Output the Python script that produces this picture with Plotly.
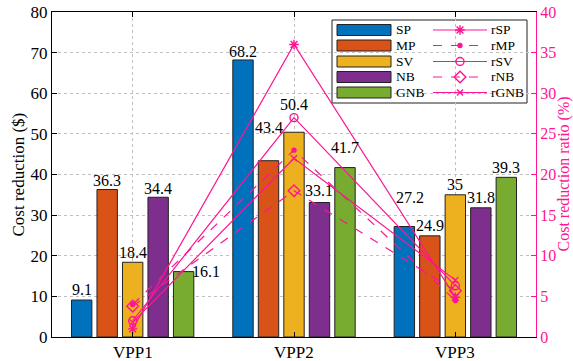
import plotly.graph_objects as go

categories = ["VPP1", "VPP2", "VPP3"]
series_names = ["SP", "MP", "SV", "NB", "GNB"]
cost_SP = [9.1, 68.2, 27.2]
cost_MP = [36.3, 43.4, 24.9]
cost_SV = [18.4, 50.4, 35.0]
cost_NB = [34.4, 33.1, 31.8]
cost_GNB = [16.1, 41.7, 39.3]
ratio_SP = [1.0, 36.0, 4.9]
ratio_MP = [4.0, 23.0, 4.5]
ratio_SV = [2.0, 27.0, 6.3]
ratio_NB = [3.8, 18.0, 5.7]
ratio_GNB = [1.8, 22.0, 7.0]
left_ticks = [0, 10, 20, 30, 40, 50, 60, 70, 80]
right_ticks = [0, 5, 10, 15, 20, 25, 30, 35, 40]

costs = [cost_SP, cost_MP, cost_SV, cost_NB, cost_GNB]
ratios = [ratio_SP, ratio_MP, ratio_SV, ratio_NB, ratio_GNB]

bar_colors = ["#0072BD", "#D95319", "#EDB120", "#7E2F8E", "#77AC30"]
pink = "#FF1493"
FONT = "Liberation Serif, Times New Roman, serif"

W, H = 573, 361
ML, MR, MT, MB = 52, 37, 12, 24
BARGAP, BARGROUPGAP = 0.21, 0.2
plot_w = W - ML - MR
slot = plot_w / 3 * (1 - BARGAP) / 5

# label placement tweaks (px): horizontal shift and height of text centre above bar top
label_dx = [[0, 0, 6], [0, 0, 0], [0, 0, 0], [0, 0, 0], [22, 0, 0]]
label_dy = [[11, 8, 29], [9, 33, 10], [10, 28, 10], [9, 12, 10], [0, 20, 10]]

line_styles = [
    dict(dash="solid", symbol="asterisk-open", size=8),
    dict(dash="dash", symbol="circle", size=4),
    dict(dash="solid", symbol="circle-open", size=8),
    dict(dash="dash", symbol="diamond-open", size=9),
    dict(dash="solid", symbol="x-thin-open", size=6),
]

fig = go.Figure()
for i, name in enumerate(series_names):
    fig.add_trace(go.Bar(
        x=categories, y=costs[i], name=name, showlegend=False,
        marker=dict(color=bar_colors[i], line=dict(color="#222222", width=1)),
    ))

for i, name in enumerate(series_names):
    st = line_styles[i]
    fig.add_trace(go.Scatter(
        x=categories, y=ratios[i], name="r" + name, yaxis="y2",
        mode="lines+markers", showlegend=False,
        line=dict(color=pink, width=1.2, dash=st["dash"]),
        marker=dict(symbol=st["symbol"], size=st["size"], color=pink,
                    line=dict(color=pink, width=1.4)),
    ))

annotations = []
for i in range(5):
    for j, cat in enumerate(categories):
        v = costs[i][j]
        annotations.append(dict(
            x=cat, y=v, xref="x", yref="y", text=f"{v:g}", showarrow=False,
            xshift=(i - 2) * slot + label_dx[i][j], yshift=label_dy[i][j],
            xanchor="center", yanchor="middle",
            font=dict(family=FONT, size=16, color="black"),
        ))

# category labels under the axis
for cat in categories:
    annotations.append(dict(
        x=cat, y=0, xref="x", yref="paper", text=cat, showarrow=False,
        yshift=-15, xanchor="center", yanchor="middle",
        font=dict(family=FONT, size=17, color="black"),
    ))

# axis titles
annotations.append(dict(
    x=0, y=0.5, xref="paper", yref="paper", text="Cost reduction ($)",
    showarrow=False, textangle=-90, xshift=-34, xanchor="center", yanchor="middle",
    font=dict(family=FONT, size=17, color="black"),
))
annotations.append(dict(
    x=1, y=0.5, xref="paper", yref="paper", text="Cost reduction ratio (%)",
    showarrow=False, textangle=-90, xshift=27, xanchor="center", yanchor="middle",
    font=dict(family=FONT, size=16, color=pink),
))

# ---- hand-built legend (pixel coordinates on a hidden overlay axis) ----
def px_x(p):
    return (p - ML) / plot_w

def px_y(p):
    return 1 - (p - MT) / (H - MT - MB)

shapes = [dict(type="rect", xref="paper", yref="paper",
               x0=px_x(332), x1=px_x(527), y0=px_y(103), y1=px_y(20),
               line=dict(color="#222222", width=1), fillcolor="white", layer="between")]
row_y = [30, 45.5, 61.5, 77, 92.5]
for i, name in enumerate(series_names):
    ry = row_y[i]
    shapes.append(dict(type="rect", xref="paper", yref="paper",
                       x0=px_x(337), x1=px_x(391), y0=px_y(ry + 5.5), y1=px_y(ry - 5.5),
                       line=dict(color="#222222", width=1), fillcolor=bar_colors[i],
                       opacity=1, layer="above"))
    annotations.append(dict(x=px_x(394), y=px_y(ry), xref="paper", yref="paper",
                            text=name, showarrow=False, xanchor="left", yanchor="middle",
                            font=dict(family=FONT, size=13.5, color="black")))
    annotations.append(dict(x=px_x(489), y=px_y(ry), xref="paper", yref="paper",
                            text="r" + name, showarrow=False, xanchor="left", yanchor="middle",
                            font=dict(family=FONT, size=13.5, color="black")))
    st = line_styles[i]
    fig.add_trace(go.Scatter(
        x=[433, 487], y=[ry, ry], xaxis="x3", yaxis="y3", mode="lines",
        line=dict(color=pink, width=1.2, dash=st["dash"]), showlegend=False,
        hoverinfo="skip",
    ))
    fig.add_trace(go.Scatter(
        x=[460], y=[ry], xaxis="x3", yaxis="y3", mode="markers",
        marker=dict(symbol=st["symbol"], size=st["size"], color=pink,
                    line=dict(color=pink, width=1.4)),
        showlegend=False, hoverinfo="skip",
    ))

fig.update_layout(
    width=W, height=H,
    margin=dict(l=ML, r=MR, t=MT, b=MB, autoexpand=False),
    paper_bgcolor="white", plot_bgcolor="white",
    barmode="group", bargap=BARGAP, bargroupgap=BARGROUPGAP,
    font=dict(family=FONT, size=16, color="black"),
    showlegend=False,
    annotations=annotations, shapes=shapes,
    xaxis=dict(
        showline=True, linecolor="black", linewidth=1, mirror="ticks",
        ticks="inside", ticklen=5, tickcolor="black", showticklabels=False,
        showgrid=True, gridcolor="#c0c0c0", griddash="dot", gridwidth=1,
    ),
    yaxis=dict(
        range=[0, 80], tickvals=left_ticks, showline=True, linecolor="black",
        linewidth=1, ticks="inside", ticklen=5, tickcolor="black",
        showgrid=True, gridcolor="#c0c0c0", griddash="dot", gridwidth=1,
        zeroline=False, tickfont=dict(family=FONT, size=17),
    ),
    yaxis2=dict(
        range=[0, 40], tickvals=right_ticks, overlaying="y", side="right",
        showline=True, linecolor=pink, linewidth=1, ticks="inside", ticklen=5,
        tickcolor=pink, showgrid=False, zeroline=False,
        tickfont=dict(family=FONT, size=16, color=pink),
    ),
    xaxis3=dict(overlaying="x", range=[ML, W - MR], visible=False, fixedrange=True),
    yaxis3=dict(overlaying="y", range=[H - MB, MT], visible=False, fixedrange=True),
)

fig.write_html(
    "out.html",
    config={"displayModeBar": False, "staticPlot": True},
    post_script="document.body.style.margin='0';document.body.style.overflow='hidden';",
)
